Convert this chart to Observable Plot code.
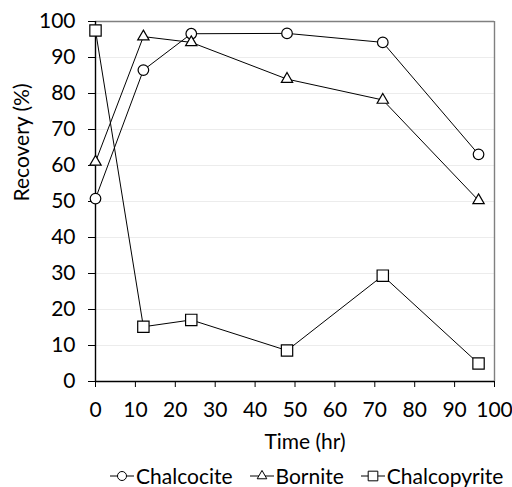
<!DOCTYPE html>
<html>
<head>
<meta charset="utf-8">
<script src="https://cdn.jsdelivr.net/npm/d3@7"></script>
<script src="https://cdn.jsdelivr.net/npm/@observablehq/plot@0.6"></script>
<style>
  html, body { margin: 0; padding: 0; background: #fff; }
  #wrap { position: relative; width: 512px; height: 487px; font-family: Lato, sans-serif; }
  #legend { position: absolute; left: 110px; top: 465px; height: 22px; line-height: 22px; display: flex; align-items: center; font-size: 21px; color: #000; white-space: nowrap; }
  #legend .item { display: flex; align-items: center; margin-right: 17px; }
  #legend svg { display: block; margin-right: 2px; }
</style>
</head>
<body>
<div id="wrap"></div>
<script>
const times = [0, 12, 24, 48, 72, 96];
const chalcocite = [50.8, 86.5, 96.6, 96.7, 94.2, 63.1];
const bornite = [61.0, 95.8, 94.2, 84.0, 78.2, 50.3];
const chalcopyrite = [97.5, 15.2, 17.1, 8.6, 29.4, 5.0];
const seriesNames = ["Chalcocite", "Bornite", "Chalcopyrite"];
const xTicks = [0, 10, 20, 30, 40, 50, 60, 70, 80, 90, 100];
const yTicks = [0, 10, 20, 30, 40, 50, 60, 70, 80, 90, 100];
const xLabel = "Time (hr)";
const yLabel = "Recovery (%)";

const symbolFor = {Chalcocite: "circle", Bornite: "triangle", Chalcopyrite: "square"};
const sizeFor = {Chalcocite: 5.3, Bornite: 4.2, Chalcopyrite: 6.4};

const valuesBySeries = [chalcocite, bornite, chalcopyrite];
const rows = [];
seriesNames.forEach((s, i) => {
  times.forEach((t, j) => rows.push({series: s, t, v: valuesBySeries[i][j]}));
});

const FS = 21;
const chart = Plot.plot({
  width: 512,
  height: 464,
  marginLeft: 95,
  marginRight: 18,
  marginTop: 21,
  marginBottom: 83,
  style: {fontFamily: "Lato, sans-serif", fontSize: FS + "px", color: "#000", background: "#fff"},
  x: {domain: [0, 100]},
  y: {domain: [0, 100]},
  symbol: {domain: seriesNames, range: seriesNames.map(s => symbolFor[s])},
  r: {type: "identity"},
  marks: [
    Plot.gridY(yTicks.filter(d => d > 0 && d < 100), {stroke: "#ececec", strokeOpacity: 1, strokeWidth: 1}),
    Plot.ruleY([100], {stroke: "#808080", strokeWidth: 1.4}),
    Plot.ruleX([100], {stroke: "#808080", strokeWidth: 1.4}),
    Plot.axisY({ticks: yTicks, tickSize: 7, tickPadding: 13, label: null, fontSize: FS, tickFormat: d => String(d)}),
    Plot.axisX({ticks: xTicks, tickSize: 6, tickPadding: 15, label: null, fontSize: FS, tickFormat: d => String(d)}),
    Plot.ruleX([0], {stroke: "#000", strokeWidth: 1.4}),
    Plot.ruleY([0], {stroke: "#000", strokeWidth: 1.4}),
    Plot.line(rows, {x: "t", y: "v", z: "series", stroke: "#000", strokeWidth: 1}),
    Plot.dot(rows, {x: "t", y: "v", symbol: "series", r: d => sizeFor[d.series], fill: "#fff", stroke: "#000", strokeWidth: 1.2}),
    Plot.text([yLabel], {frameAnchor: "left", dx: -73, rotate: -90, fontSize: FS, fill: "#000"}),
    Plot.text([xLabel], {frameAnchor: "bottom", dx: 10, dy: 67, fontSize: FS, fill: "#000"})
  ]
});
document.getElementById("wrap").appendChild(chart);

// legend below the plot
const legend = document.createElement("div");
legend.id = "legend";
seriesNames.forEach(s => {
  const item = document.createElement("div");
  item.className = "item";
  const sw = d3.create("svg").attr("width", 24).attr("height", 22);
  sw.append("line").attr("x1", 0).attr("x2", 24).attr("y1", 11).attr("y2", 11).attr("stroke", "#000").attr("stroke-width", 1);
  const shape = {circle: d3.symbolCircle, triangle: d3.symbolTriangle, square: d3.symbolSquare}[symbolFor[s]];
  const r = sizeFor[s] * 0.85;
  sw.append("path").attr("transform", "translate(12,11)")
    .attr("d", d3.symbol(shape, r * r * Math.PI)())
    .attr("fill", "#fff").attr("stroke", "#000").attr("stroke-width", 1);
  item.appendChild(sw.node());
  const label = document.createElement("span");
  label.textContent = s;
  item.appendChild(label);
  legend.appendChild(item);
});
document.getElementById("wrap").appendChild(legend);
</script>
</body>
</html>
